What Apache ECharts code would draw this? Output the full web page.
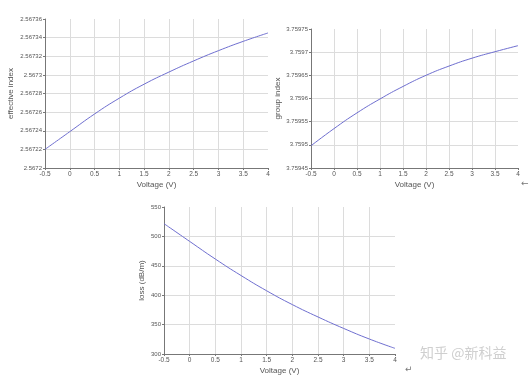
<!DOCTYPE html>
<html>
<head>
<meta charset="utf-8">
<script src="https://cdn.jsdelivr.net/npm/echarts@6/dist/echarts.min.js"></script>
<style>
  html, body, #main { width: 532px; height: 378px; margin: 0; background: #fff; }
</style>
</head>
<body>
<div id="main"></div>
<script>
// voltage sweep, shared by all three plots
var voltage = [-0.5, 0, 0.5, 1, 1.5, 2, 2.5, 3, 3.5, 4];

// values
var effIndex = [2.567220, 2.567239, 2.567258, 2.567275, 2.567290, 2.567303, 2.567315, 2.567326, 2.567336, 2.567345];
var groupIndex = [3.759498, 3.759535, 3.759569, 3.759599, 3.759626, 3.759650, 3.759670, 3.759687, 3.759701, 3.759714];
var loss = [521.7, 491.5, 461.5, 433.5, 407.5, 384.0, 363.0, 343.5, 325.5, 309.6];

var chart = echarts.init(document.getElementById('main'));

var lineColor = '#6f6fd0';
var font = 'Liberation Sans';

function pairs(ys) {
    return voltage.map(function (v, i) { return [v, ys[i]]; });
}

function xAxis(idx) {
    return {
        gridIndex: idx,
        type: 'value',
        min: -0.5,
        max: 4,
        interval: 0.5,
        name: 'Voltage (V)',
        nameLocation: 'middle',
        nameGap: 13,
        nameTextStyle: { fontFamily: font, fontSize: 8, color: '#555' },
        axisLine: { onZero: false, lineStyle: { color: '#777', width: 1 } },
        axisTick: { show: true, length: 2, lineStyle: { color: '#777' } },
        axisLabel: { fontFamily: font, fontSize: 6.5, color: '#555', margin: 3 },
        splitLine: { show: true, showMaxLine: false, lineStyle: { color: '#dcdcdc', width: 1 } }
    };
}

function yAxis(idx, name, min, max, interval, gap, digits) {
    return {
        gridIndex: idx,
        type: 'value',
        min: min,
        max: max,
        interval: interval,
        name: name,
        nameLocation: 'middle',
        nameGap: gap,
        nameTextStyle: { fontFamily: font, fontSize: 8, color: '#555' },
        axisLine: { show: true, onZero: false, lineStyle: { color: '#777', width: 1 } },
        axisTick: { show: true, length: 2, lineStyle: { color: '#777' } },
        axisLabel: {
            fontFamily: font, fontSize: 6, color: '#555', margin: 3,
            formatter: function (v) { return String(+v.toFixed(digits)); }
        },
        splitLine: { show: true, showMaxLine: false, lineStyle: { color: '#dcdcdc', width: 1 } }
    };
}

function line(idx, ys) {
    return {
        type: 'line',
        xAxisIndex: idx,
        yAxisIndex: idx,
        data: pairs(ys),
        smooth: true,
        showSymbol: false,
        lineStyle: { color: lineColor, width: 1 }
    };
}

var option = {
    animation: false,
    backgroundColor: '#fff',
    grid: [
        { left: 45, top: 19, width: 223, height: 149 },
        { left: 311, top: 29, width: 207, height: 139 },
        { left: 164, top: 207, width: 231, height: 147 }
    ],
    xAxis: [xAxis(0), xAxis(1), xAxis(2)],
    yAxis: [
        yAxis(0, 'effective index', 2.5672, 2.56736, 0.00002, 30, 5),
        yAxis(1, 'group index', 3.75945, 3.75975, 0.00005, 29, 5),
        yAxis(2, 'loss (dB/m)', 300, 550, 50, 18, 0)
    ],
    series: [line(0, effIndex), line(1, groupIndex), line(2, loss)],
    graphic: [
        {
            type: 'text', left: 420, top: 346,
            style: { text: '知乎 @新科益', fontFamily: 'Noto Sans CJK SC', fontSize: 14, fill: '#cfcfcf' }
        },
        {
            type: 'text', left: 521, top: 179,
            style: { text: '←', fontFamily: 'DejaVu Sans', fontSize: 9, fill: '#777' }
        },
        {
            type: 'text', left: 405, top: 365,
            style: { text: '↵', fontFamily: 'DejaVu Sans', fontSize: 9, fill: '#777' }
        }
    ]
};

chart.setOption(option);
</script>
</body>
</html>
